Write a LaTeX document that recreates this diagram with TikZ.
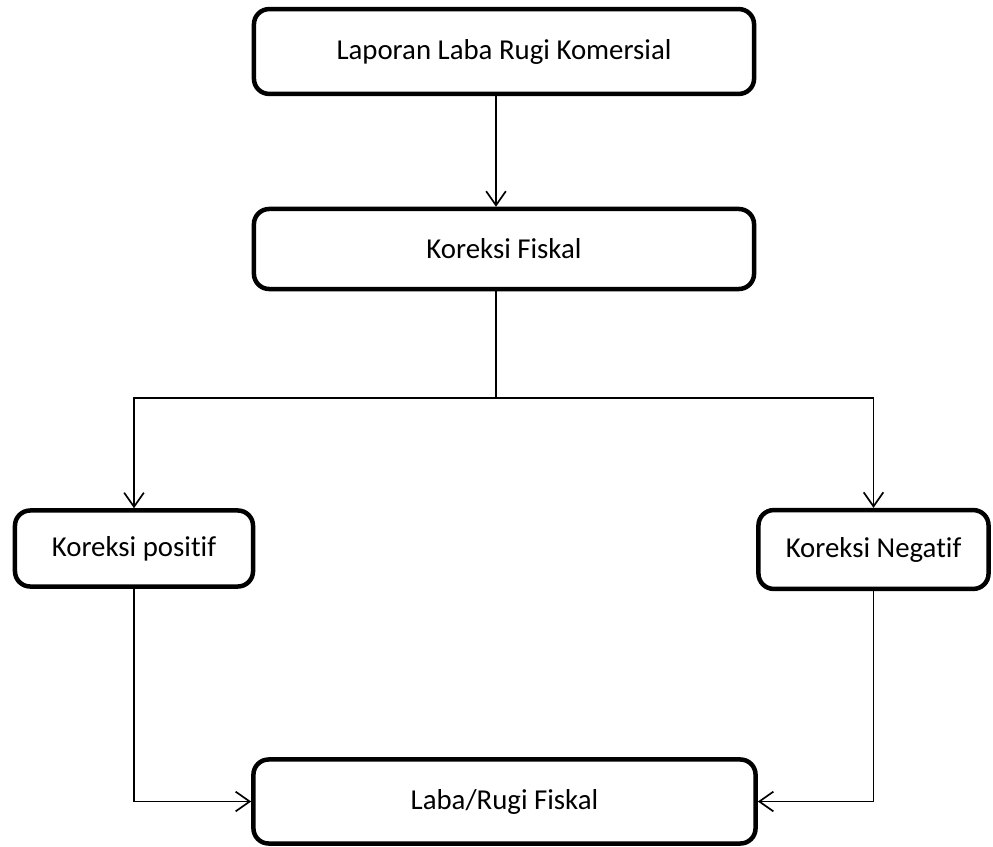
\documentclass[tikz,border=0pt]{standalone}
\usepackage{fontspec}
\setmainfont[Ligatures={NoCommon}]{Carlito}
\usetikzlibrary{arrows.meta}

\tikzset{
  box/.style={draw, line width=3.2pt, rounded corners=0.38cm, fill=white,
    align=center, font=\fontsize{20.5}{24}\selectfont},
  flow/.style={line width=1.2pt, -{Straight Barb[length=10pt,width=14pt,line width=1.2pt]}},
  link/.style={line width=1.2pt}
}

\begin{document}
\begin{tikzpicture}[x=0.025cm, y=-0.025cm]

      \useasboundingbox (0,0) rectangle (993,847);

      \begin{scope}[every node/.style={box}]
        \node (lap) at (504,51.5) [minimum width=12.5cm, minimum height=2.12cm] {Laporan Laba Rugi Komersial};
        \node (kf)  at (504,249)  [minimum width=12.5cm, minimum height=2cm] {Koreksi Fiskal};
        \node (kp)  at (134,548.5) [minimum width=5.95cm, minimum height=1.9cm] {Koreksi positif};
        \node (kn)  at (873.5,549.5) [minimum width=5.75cm, minimum height=1.97cm] {Koreksi Negatif};
        \node (lrf) at (504.5,801.5) [minimum width=12.55cm, minimum height=2.1cm] {Laba/Rugi Fiskal};
      \end{scope}

      \coordinate (mid) at (496,398);

      \begin{scope}
        \draw[flow] (lap.south -| mid) -- (kf.north -| mid);
        \draw[link] (kf.south -| mid) -- (mid);
        \draw[flow] (mid) -| (kp.north);
        \draw[flow] (mid) -| (kn.north);
        \draw[flow] (kp.south) |- (lrf.west);
        \draw[flow] (kn.south) |- (lrf.east);
      \end{scope}

    \end{tikzpicture}
\end{document}
